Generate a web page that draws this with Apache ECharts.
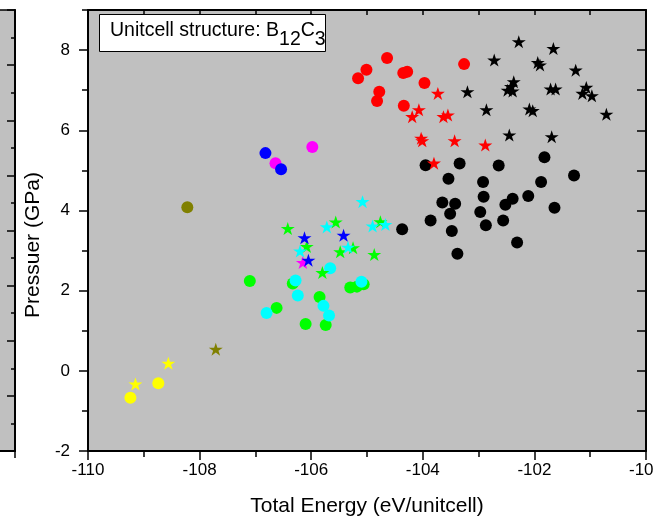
<!DOCTYPE html>
<html>
<head>
<meta charset="utf-8">
<script src="https://cdn.jsdelivr.net/npm/echarts@6/dist/echarts.min.js"></script>
<style>
  html, body { margin: 0; padding: 0; background: #fff; }
  #main { width: 653px; height: 520px; }
</style>
</head>
<body>
<div id="main"></div>
<script>
// points: [energy, pressure]
const yellowDots = [[-109.24, -0.67], [-108.74, -0.31]];
const yellowStars = [[-109.15, -0.33], [-108.56, 0.19]];
const oliveDots = [[-108.22, 4.08]];
const oliveStars = [[-107.71, 0.54]];
const blueDots = [[-106.82, 5.43], [-106.54, 5.03]];
const magentaDots = [[-106.64, 5.18], [-105.98, 5.58]];
const blueStars = [[-106.12, 3.32], [-105.42, 3.38], [-106.05, 2.76]];
const magentaStars = [[-106.15, 2.70]];
const greenDots = [
  [-107.10, 2.24], [-106.33, 2.18], [-106.62, 1.57], [-105.85, 1.84], [-106.10, 1.17],
  [-105.74, 1.14], [-105.30, 2.08], [-105.18, 2.10], [-105.06, 2.16]
];
const cyanDots = [
  [-106.28, 2.25], [-106.24, 1.88], [-106.80, 1.44], [-105.78, 1.62], [-105.68, 1.38],
  [-105.66, 2.56], [-105.10, 2.22]
];
const greenStars = [
  [-106.42, 3.55], [-106.08, 3.10], [-105.80, 2.45], [-105.56, 3.71], [-105.48, 2.97],
  [-105.25, 3.07], [-104.87, 2.90], [-104.76, 3.72]
];
const cyanStars = [
  [-105.08, 4.22], [-105.72, 3.59], [-104.90, 3.61], [-104.67, 3.65], [-106.20, 2.99],
  [-105.34, 3.08]
];
const redDots = [
  [-104.64, 7.80], [-105.01, 7.51], [-105.16, 7.30], [-104.35, 7.43], [-104.28, 7.46],
  [-103.97, 7.18], [-104.78, 6.96], [-104.82, 6.73], [-104.34, 6.61], [-103.26, 7.65]
];
const redStars = [
  [-103.73, 6.92], [-104.07, 6.51], [-104.19, 6.34], [-103.63, 6.34], [-103.55, 6.38],
  [-104.03, 5.80], [-104.01, 5.74], [-103.43, 5.74], [-102.88, 5.63], [-103.80, 5.18]
];
const blackDots = [
  [-103.95, 5.13], [-103.34, 5.17], [-102.64, 5.12], [-101.82, 5.33], [-101.29, 4.87],
  [-103.54, 4.79], [-102.92, 4.71], [-101.88, 4.71], [-102.91, 4.34], [-102.11, 4.36],
  [-102.39, 4.29], [-102.52, 4.14], [-103.65, 4.20], [-103.42, 4.17], [-101.64, 4.07],
  [-103.51, 3.92], [-102.97, 3.96], [-103.86, 3.75], [-102.56, 3.75], [-102.87, 3.63],
  [-103.48, 3.49], [-104.37, 3.53], [-102.31, 3.20], [-103.38, 2.92]
];
const blackStars = [
  [-102.28, 8.21], [-101.66, 8.04], [-102.72, 7.75], [-101.94, 7.69], [-101.90, 7.63],
  [-101.26, 7.50], [-102.37, 7.21], [-102.42, 7.09], [-102.48, 7.00], [-102.39, 6.98],
  [-101.71, 7.03], [-101.62, 7.03], [-101.07, 7.07], [-101.14, 6.92], [-100.97, 6.86],
  [-103.20, 6.96], [-102.86, 6.51], [-102.09, 6.53], [-102.03, 6.49], [-100.71, 6.40],
  [-102.45, 5.88], [-101.69, 5.84]
];

const FONT = '"Liberation Sans", Arial, sans-serif';
const STAR = 'path://M0,-100L22.45,-30.9L95.1,-30.9L36.3,11.8L58.8,80.9L0,38.2L-58.8,80.9L-36.3,11.8L-95.1,-30.9L-22.45,-30.9Z';

function dots(data, color) {
  return { type: 'scatter', data: data, symbol: 'circle', symbolSize: 12,
    itemStyle: { color: color, opacity: 1 }, silent: true };
}
function stars(data, color) {
  return { type: 'scatter', data: data, symbol: STAR, symbolSize: [14, 13],
    itemStyle: { color: color, opacity: 1 }, silent: true };
}

const line = { onZero: false, lineStyle: { color: '#000', width: 2 } };

let chart = echarts.init(document.getElementById('main'));

let option = {
  animation: false,
  backgroundColor: '#fff',
  title: {
    text: '{a|Unitcell structure: B}{s|12}{a|C}{s|3}',
    left: 99, top: 14,
    backgroundColor: '#fff',
    borderColor: '#000',
    borderWidth: 1,
    padding: [7, 0, 2, 11],
    textStyle: {
      fontWeight: 'normal',
      rich: {
        a: { fontFamily: FONT, fontSize: 19.5, fontWeight: 'normal', color: '#000', lineHeight: 22, verticalAlign: 'top' },
        s: { fontFamily: FONT, fontSize: 19.5, fontWeight: 'normal', color: '#000', lineHeight: 22, verticalAlign: 'top', padding: [9, 0, 0, 0] }
      }
    }
  },
  grid: [
    { left: 88, right: 7, top: 10, bottom: 69, outerBoundsMode: 'none', show: true, backgroundColor: '#C0C0C0', borderWidth: 0 },
    // edge of the neighbouring panel, cut off at the left
    { left: -300, width: 315, top: 10, bottom: 69, outerBoundsMode: 'none', show: true, backgroundColor: '#C0C0C0', borderColor: '#000', borderWidth: 1.5 }
  ],
  xAxis: [
    {
      gridIndex: 0, type: 'value', position: 'bottom', min: -110, max: -100, interval: 2,
      name: 'Total Energy (eV/unitcell)', nameLocation: 'middle', nameGap: 45,
      nameTextStyle: { fontFamily: FONT, fontSize: 21, color: '#000' },
      axisLine: line,
      axisTick: { length: 9, lineStyle: { color: '#000', width: 1.5 } },
      minorTick: { show: true, splitNumber: 2, length: 6, lineStyle: { color: '#000', width: 1.5 } },
      axisLabel: { fontFamily: FONT, fontSize: 17, color: '#000', margin: 11 },
      splitLine: { show: false }
    },
    {
      gridIndex: 0, type: 'value', position: 'top', min: -110, max: -100, interval: 1,
      axisLine: line,
      axisTick: { inside: true, length: 5, lineStyle: { color: '#000', width: 1.5 } },
      axisLabel: { show: false }, splitLine: { show: false }
    },
    {
      gridIndex: 1, type: 'value', position: 'bottom', min: 0, max: 1, interval: 1,
      axisLine: line,
      axisTick: { length: 7, lineStyle: { color: '#000', width: 1.5 } },
      axisLabel: { show: false }, splitLine: { show: false }
    }
  ],
  yAxis: [
    {
      gridIndex: 0, type: 'value', position: 'left', min: -2, max: 9, interval: 2,
      name: 'Pressuer (GPa)', nameLocation: 'middle', nameGap: 43,
      nameTextStyle: { fontFamily: FONT, fontSize: 21, color: '#000', padding: [0, 29, 0, 0] },
      axisLine: line,
      axisTick: { length: 9, lineStyle: { color: '#000', width: 1.5 } },
      axisLabel: { fontFamily: FONT, fontSize: 17, color: '#000', margin: 18, showMaxLabel: false },
      splitLine: { show: false }
    },
    {
      // minor ticks on the left
      gridIndex: 0, type: 'value', position: 'left', min: -2, max: 9, interval: 1,
      axisLine: { show: false, onZero: false },
      axisTick: { length: 6, lineStyle: { color: '#000', width: 1.5 } },
      axisLabel: { show: false }, splitLine: { show: false }
    },
    {
      gridIndex: 0, type: 'value', position: 'right', min: -2, max: 9, interval: 1,
      axisLine: line,
      axisTick: { inside: true, length: 9, lineStyle: { color: '#000', width: 1.5 } },
      axisLabel: { show: false }, splitLine: { show: false }
    },
    {
      gridIndex: 1, type: 'value', position: 'right', min: 0, max: 8, interval: 1,
      axisLine: line,
      axisTick: { inside: true, length: 8, lineStyle: { color: '#000', width: 1.5 } },
      minorTick: { show: true, splitNumber: 2, length: 4, lineStyle: { color: '#000', width: 1.5 } },
      axisLabel: { show: false }, splitLine: { show: false }
    }
  ],
  series: [
    dots(yellowDots, '#FFFF00'),
    dots(oliveDots, '#808000'),
    dots(greenDots, '#00FF00'),
    dots(cyanDots, '#00FFFF'),
    dots(magentaDots, '#FF00FF'),
    dots(blueDots, '#0000FF'),
    dots(blackDots, '#000000'),
    dots(redDots, '#FF0000'),
    stars(greenStars, '#00FF00'),
    stars(cyanStars, '#00FFFF'),
    stars(magentaStars, '#FF00FF'),
    stars(blueStars, '#0000FF'),
    stars(blackStars, '#000000'),
    stars(redStars, '#FF0000'),
    stars(yellowStars, '#FFFF00'),
    stars(oliveStars, '#808000')
  ]
};

chart.setOption(option);
</script>
</body>
</html>
